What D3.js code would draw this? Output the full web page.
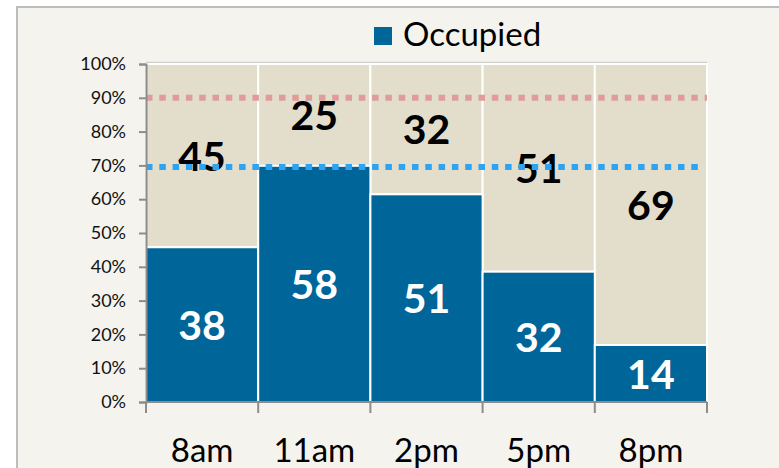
<!DOCTYPE html>
<html>
<head>
<meta charset="utf-8">
<script src="https://cdn.jsdelivr.net/npm/d3@7"></script>
<style>
  html, body { margin: 0; padding: 0; background: #ffffff; }
  svg { display: block; font-family: Lato, "Open Sans", sans-serif; }
</style>
</head>
<body>
<div id="wrapper"></div>
<script>
// data
const times = ['8am', '11am', '2pm', '5pm', '8pm'];
const occupied = [38, 58, 51, 32, 14];
const empty = [45, 25, 32, 51, 69];
const yTicks = [0, 0.1, 0.2, 0.3, 0.4, 0.5, 0.6, 0.7, 0.8, 0.9, 1];
const refLines = [0.695, 0.9];
const refColors = ['#2ea3f2', '#e09c9c'];

const W = 779, H = 468;
const pLeft = 146, pRight = 707, pTop = 64, pBottom = 402;

const svg = d3.select('#wrapper').append('svg')
  .attr('width', W).attr('height', H);

// panel
svg.append('rect')
  .attr('x', 17).attr('y', 7)
  .attr('width', W).attr('height', H)
  .attr('fill', '#f4f3ee')
  .attr('stroke', '#bdbdbd').attr('stroke-width', 2);

const x = d3.scaleBand().domain(times).range([pLeft, pRight]).padding(0);
const y = d3.scaleLinear().domain([0, 1]).range([pBottom, pTop]);

const rows = times.map((t, i) => {
  const tot = occupied[i] + empty[i];
  return { t: t, occ: occupied[i], emp: empty[i], f: occupied[i] / tot };
});

// top border of plot area
svg.append('line')
  .attr('x1', pLeft).attr('x2', pRight)
  .attr('y1', pTop - 1.5).attr('y2', pTop - 1.5)
  .attr('stroke', '#cfcfcf').attr('stroke-width', 1.5);

const g = svg.append('g');

// empty part
g.selectAll('rect.emp').data(rows).enter().append('rect')
  .attr('class', 'emp')
  .attr('x', d => x(d.t)).attr('width', x.bandwidth())
  .attr('y', y(1)).attr('height', d => y(d.f) - y(1))
  .attr('fill', '#e3ddcc')
  .attr('stroke', '#ffffff').attr('stroke-width', 2);

// occupied part
g.selectAll('rect.occ').data(rows).enter().append('rect')
  .attr('class', 'occ')
  .attr('x', d => x(d.t)).attr('width', x.bandwidth())
  .attr('y', d => y(d.f)).attr('height', d => y(0) - y(d.f))
  .attr('fill', '#00669a')
  .attr('stroke', '#ffffff').attr('stroke-width', 2);

// labels
g.selectAll('text.emp').data(rows).enter().append('text')
  .attr('class', 'emp')
  .attr('x', d => x(d.t) + x.bandwidth() / 2)
  .attr('y', d => (y(1) + y(d.f)) / 2)
  .attr('dy', '0.37em')
  .attr('text-anchor', 'middle')
  .style('font-size', '41px').style('font-weight', 'bold')
  .attr('fill', '#000')
  .text(d => d.emp);

g.selectAll('text.occ').data(rows).enter().append('text')
  .attr('class', 'occ')
  .attr('x', d => x(d.t) + x.bandwidth() / 2)
  .attr('y', d => (y(0) + y(d.f)) / 2)
  .attr('dy', '0.37em')
  .attr('text-anchor', 'middle')
  .style('font-size', '41px').style('font-weight', 'bold')
  .attr('fill', '#fff')
  .text(d => d.occ);

// reference lines
svg.selectAll('line.ref').data(refLines).enter().append('line')
  .attr('class', 'ref')
  .attr('x1', pLeft)
  .attr('x2', (d, i) => i == 0 ? pRight - 9 : pRight)
  .attr('y1', d => y(d)).attr('y2', d => y(d))
  .attr('stroke', (d, i) => refColors[i])
  .attr('stroke-width', 6)
  .attr('stroke-dasharray', '6.5,6.8');

// y axis
const yAxis = d3.axisLeft(y).tickValues(yTicks)
  .tickFormat(d3.format('.0%')).tickSize(7).tickPadding(13);
const ya = svg.append('g').attr('transform', `translate(${pLeft},0)`).call(yAxis);
ya.select('.domain').attr('stroke', '#8c8c8c').attr('stroke-width', 2);
ya.selectAll('.tick line').attr('stroke', '#8c8c8c').attr('stroke-width', 2);
ya.selectAll('.tick text').style('font-size', '18px').attr('fill', '#111')
  .style('font-family', 'Lato, sans-serif');

// x axis: ticks at band edges
const edges = times.map(t => x(t)).concat([pRight]);
const xa = svg.append('g');
xa.append('line')
  .attr('x1', pLeft).attr('x2', pRight)
  .attr('y1', pBottom).attr('y2', pBottom)
  .attr('stroke', '#8c8c8c').attr('stroke-width', 2);
xa.selectAll('line.tk').data(edges).enter().append('line')
  .attr('class', 'tk')
  .attr('x1', d => d).attr('x2', d => d)
  .attr('y1', pBottom).attr('y2', pBottom + 11)
  .attr('stroke', '#8c8c8c').attr('stroke-width', 2);
xa.selectAll('text').data(times).enter().append('text')
  .attr('x', d => x(d) + x.bandwidth() / 2)
  .attr('y', 462)
  .attr('text-anchor', 'middle')
  .style('font-size', '33px').attr('fill', '#000')
  .text(d => d);

// legend
svg.append('rect')
  .attr('x', 374).attr('y', 27).attr('width', 18).attr('height', 18)
  .attr('fill', '#00669a');
svg.append('text')
  .attr('x', 403).attr('y', 46)
  .style('font-size', '33px').attr('fill', '#000')
  .text('Occupied');
</script>
</body>
</html>
